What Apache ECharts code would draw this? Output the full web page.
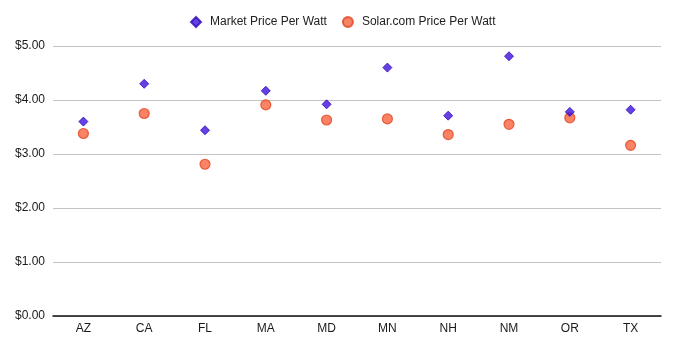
<!DOCTYPE html>
<html>
<head>
<meta charset="utf-8">
<script src="https://cdn.jsdelivr.net/npm/echarts@6/dist/echarts.min.js"></script>
<style>
  html, body { margin: 0; padding: 0; background: #fff; }
  #chart { width: 677px; height: 341px; }
</style>
</head>
<body>
<div id="chart"></div>
<script>
// State codes along the x axis
const states = ['AZ', 'CA', 'FL', 'MA', 'MD', 'MN', 'NH', 'NM', 'OR', 'TX'];
// Average installed price per watt, USD
const marketPrice = [3.60, 4.30, 3.44, 4.17, 3.92, 4.60, 3.71, 4.81, 3.78, 3.82];
const solarComPrice = [3.38, 3.75, 2.81, 3.91, 3.63, 3.65, 3.36, 3.55, 3.67, 3.16];
// Y axis ticks
const yTicks = [0, 1, 2, 3, 4, 5];

const FONT = '"Liberation Sans", Arial, sans-serif';

const chart = echarts.init(document.getElementById('chart'));
chart.setOption({
  animation: false,
  textStyle: { fontFamily: FONT },
  legend: {
    top: 11,
    left: 185,
    itemGap: 15,
    itemWidth: 10,
    itemHeight: 10,
    textStyle: { fontFamily: FONT, fontSize: 12, color: '#222', padding: [0, 0, 0, 4] },
    data: ['Market Price Per Watt', 'Solar.com Price Per Watt']
  },
  grid: { left: 53, right: 16, top: 46, bottom: 25, containLabel: false },
  xAxis: {
    type: 'category',
    data: states,
    axisTick: { show: false },
    axisLine: { lineStyle: { color: '#111', width: 1.5 } },
    axisLabel: { fontFamily: FONT, color: '#1a1a1a', fontSize: 12, margin: 7 }
  },
  yAxis: {
    type: 'value',
    min: yTicks[0],
    max: yTicks[yTicks.length - 1],
    interval: 1,
    axisLine: { show: false },
    axisTick: { show: false },
    splitLine: { lineStyle: { color: '#c4c4c4', width: 1 } },
    axisLabel: {
      fontFamily: FONT,
      color: '#1a1a1a',
      fontSize: 12,
      margin: 8,
      formatter: v => '$' + v.toFixed(2)
    }
  },
  series: [
    {
      name: 'Market Price Per Watt',
      type: 'scatter',
      symbol: 'diamond',
      symbolSize: 9,
      data: marketPrice,
      itemStyle: { color: '#3f10dc', borderColor: '#300ab8', borderWidth: 1 },
      z: 3
    },
    {
      name: 'Solar.com Price Per Watt',
      type: 'scatter',
      symbol: 'circle',
      symbolSize: 10,
      data: solarComPrice,
      itemStyle: { color: '#f6643f', borderColor: '#e2431f', borderWidth: 1.2 },
      z: 2
    }
  ]
});
</script>
</body>
</html>
